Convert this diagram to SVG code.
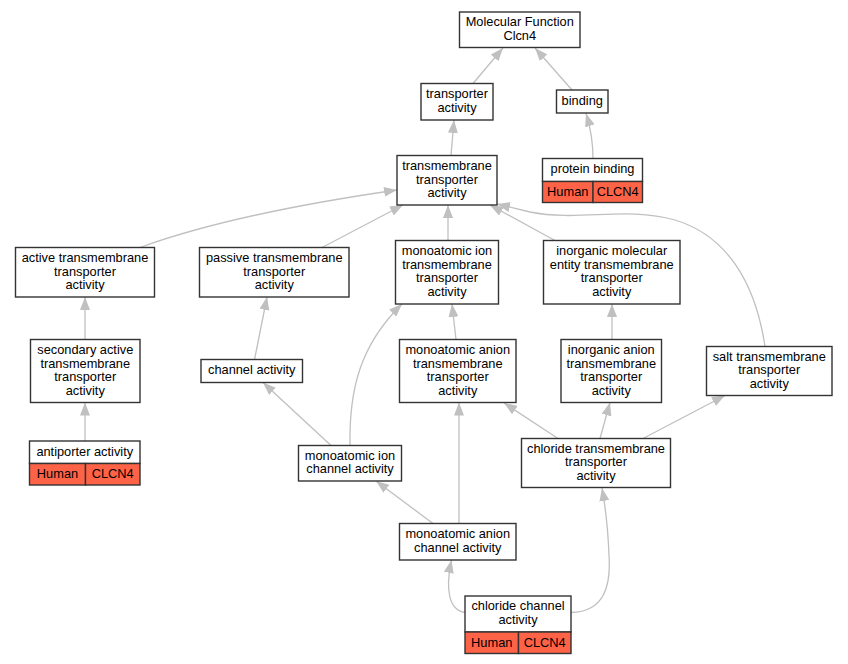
<svg xmlns="http://www.w3.org/2000/svg" width="848" height="664" viewBox="0 0 848 664">
<style>
text{font-family:"Liberation Sans",Arial,sans-serif;font-size:12.8px;fill:#000;text-anchor:middle}
.n{fill:#fff;stroke:#333;stroke-width:1.4}
.r{fill:#ff6347;stroke:#333;stroke-width:1.4}
.e{fill:none;stroke:#c0c0c0;stroke-width:1.3;marker-end:url(#a)}
</style>
<defs>
<marker id="a" viewBox="0 0 13 10" refX="13" refY="5" markerWidth="13" markerHeight="10" markerUnits="userSpaceOnUse" orient="auto">
<path d="M0,0 L13,5 L0,10 z" fill="#c0c0c0"/>
</marker>
</defs>
<rect width="848" height="664" fill="#fff"/>
<g id="connectors">
<path class="e" d="M473,83.5 L503,48"/>
<path class="e" d="M572,90 L535,48"/>
<path class="e" d="M451,155.5 L454,120"/>
<path class="e" d="M593,158.5 C593,140 590,126 586,113.5"/>
<path class="e" d="M140,247.5 C210,222 300,204 397,190"/>
<path class="e" d="M322,247.5 L403,205"/>
<path class="e" d="M448,240.5 L448,205"/>
<path class="e" d="M555,240.5 L490,205"/>
<path class="e" d="M765,346.5 C755,280 725,235 675,220 C625,206 580,222 530,212 L497,204"/>
<path class="e" d="M456,339.5 L452,304"/>
<path class="e" d="M612,339.5 L612,304"/>
<path class="e" d="M85,339.5 L85,297"/>
<path class="e" d="M85,441 L85,402.5"/>
<path class="e" d="M254.5,359.5 L267,297"/>
<path class="e" d="M331,445.5 L263,382.5"/>
<path class="e" d="M350,445.5 C349,390 360,345 402,304"/>
<path class="e" d="M433,523.5 L376,481"/>
<path class="e" d="M459,523.5 L459,402.5"/>
<path class="e" d="M558,438.5 L504,403"/>
<path class="e" d="M600,438.5 L610,402.5"/>
<path class="e" d="M643,438.5 L725,395.5"/>
<path class="e" d="M465,612.5 C449,610 445,590 451.5,560"/>
<path class="e" d="M571,612.5 C605,612 611,585 609,555 C608,530 606,510 602,488"/>
</g>
<g id="mf"><rect class="n" x="459.5" y="12" width="120.5" height="35.5"/><text x="519.75" y="26">Molecular Function</text><text x="519.75" y="39.5">Clcn4</text></g>
<g id="transporter_activity"><rect class="n" x="421" y="83.5" width="72" height="36.5"/><text x="457" y="98.2">transporter</text><text x="457" y="111.7">activity</text></g>
<g id="binding"><rect class="n" x="556.5" y="90" width="51.5" height="23"/><text x="582.25" y="104.7">binding</text></g>
<g id="tta"><rect class="n" x="397" y="155.5" width="100" height="49.5"/><text x="447" y="170">transmembrane</text><text x="447" y="183.5">transporter</text><text x="447" y="197">activity</text></g>
<g id="protein_binding"><rect class="n" x="542.5" y="158.5" width="100" height="23"/><rect class="r" x="542.5" y="181.5" width="50.5" height="21"/><rect class="r" x="593" y="181.5" width="49.5" height="21"/><text x="592.5" y="173.2">protein binding</text><text x="567.75" y="196.2">Human</text><text x="617.75" y="196.2">CLCN4</text></g>
<g id="ata"><rect class="n" x="15.5" y="247.5" width="139" height="49.5"/><text x="85" y="262">active transmembrane</text><text x="85" y="275.5">transporter</text><text x="85" y="289">activity</text></g>
<g id="pta"><rect class="n" x="199.5" y="247.5" width="149.5" height="49.5"/><text x="274.25" y="262">passive transmembrane</text><text x="274.25" y="275.5">transporter</text><text x="274.25" y="289">activity</text></g>
<g id="mita"><rect class="n" x="395.5" y="240.5" width="103" height="63.5"/><text x="447" y="255.2">monoatomic ion</text><text x="447" y="268.7">transmembrane</text><text x="447" y="282.2">transporter</text><text x="447" y="295.7">activity</text></g>
<g id="imeta"><rect class="n" x="543.5" y="240.5" width="136.5" height="63.5"/><text x="611.75" y="255.2">inorganic molecular</text><text x="611.75" y="268.7">entity transmembrane</text><text x="611.75" y="282.2">transporter</text><text x="611.75" y="295.7">activity</text></g>
<g id="sata"><rect class="n" x="30.5" y="339.5" width="109.5" height="63"/><text x="85.25" y="354">secondary active</text><text x="85.25" y="367.5">transmembrane</text><text x="85.25" y="381">transporter</text><text x="85.25" y="394.5">activity</text></g>
<g id="channel_activity"><rect class="n" x="201" y="359.5" width="101.5" height="23"/><text x="251.75" y="374.2">channel activity</text></g>
<g id="mata"><rect class="n" x="399.5" y="339.5" width="116.5" height="63"/><text x="457.75" y="354">monoatomic anion</text><text x="457.75" y="367.5">transmembrane</text><text x="457.75" y="381">transporter</text><text x="457.75" y="394.5">activity</text></g>
<g id="iata"><rect class="n" x="561" y="339.5" width="100.5" height="63"/><text x="611.25" y="354">inorganic anion</text><text x="611.25" y="367.5">transmembrane</text><text x="611.25" y="381">transporter</text><text x="611.25" y="394.5">activity</text></g>
<g id="sta"><rect class="n" x="706.5" y="346.5" width="125.5" height="49"/><text x="769.25" y="360.7">salt transmembrane</text><text x="769.25" y="374.2">transporter</text><text x="769.25" y="387.7">activity</text></g>
<g id="antiporter"><rect class="n" x="29.5" y="441" width="110.5" height="22.5"/><rect class="r" x="29.5" y="463.5" width="56" height="21.5"/><rect class="r" x="85.5" y="463.5" width="54.5" height="21.5"/><text x="84.75" y="455.5">antiporter activity</text><text x="57.5" y="477.5">Human</text><text x="112.75" y="477.5">CLCN4</text></g>
<g id="mica"><rect class="n" x="298.5" y="445.5" width="103" height="35.5"/><text x="350" y="459.7">monoatomic ion</text><text x="350" y="473.2">channel activity</text></g>
<g id="ctta"><rect class="n" x="521.5" y="438.5" width="149" height="49"/><text x="596" y="452.7">chloride transmembrane</text><text x="596" y="466.2">transporter</text><text x="596" y="479.7">activity</text></g>
<g id="maca"><rect class="n" x="399.5" y="523.5" width="116.5" height="36.5"/><text x="457.75" y="538">monoatomic anion</text><text x="457.75" y="551.5">channel activity</text></g>
<g id="cca"><rect class="n" x="465" y="596" width="106" height="36"/><rect class="r" x="465" y="632" width="53.5" height="21.5"/><rect class="r" x="518.5" y="632" width="52.5" height="21.5"/><text x="518" y="610.2">chloride channel</text><text x="518" y="623.7">activity</text><text x="491.75" y="646.5">Human</text><text x="544.75" y="646.5">CLCN4</text></g>
</svg>
